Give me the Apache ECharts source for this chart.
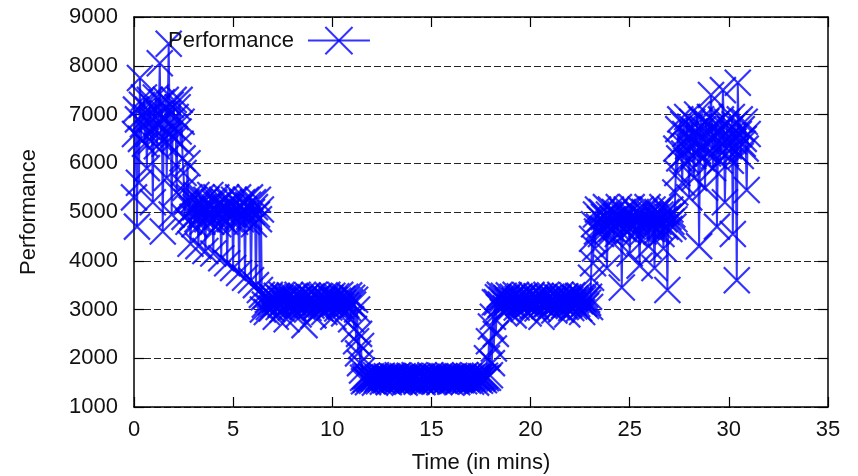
<!DOCTYPE html>
<html><head><meta charset="utf-8">
<script src="https://cdn.jsdelivr.net/npm/echarts@6/dist/echarts.min.js"></script>
<style>html,body{margin:0;padding:0;background:#fff}#c{width:858px;height:476px}</style>
</head><body><div id="c"></div>
<script>
const xTicks = [0, 5, 10, 15, 20, 25, 30, 35];
const yTicks = [1000, 2000, 3000, 4000, 5000, 6000, 7000, 8000, 9000];
const seriesName = 'Performance';
const xTitle = 'Time (in mins)';
const yTitle = 'Performance';

// [time in mins, performance], phase by phase
const phaseA = [[0.00,5300],[0.05,6600],[0.10,7100],[0.15,4700],[0.20,6900],[0.25,5600],[0.30,7750],[0.35,6500],[0.40,7200],[0.45,6800],
[0.50,7350],[0.55,6400],[0.60,6950],[0.65,5900],[0.70,7100],[0.75,6600],[0.80,7300],[0.85,6450],[0.90,6900],[0.95,5200],
[1.00,7150],[1.05,6700],[1.10,7350],[1.15,6350],[1.20,6800],[1.25,7000],[1.30,8050],[1.35,6550],[1.40,7250],[1.45,4600],
[1.50,6900],[1.55,6400],[1.60,7300],[1.65,5700],[1.70,7050],[1.75,8450],[1.80,6600],[1.85,7200],[1.90,4950],[1.95,6750],
[2.00,7300],[2.05,6500],[2.10,6950],[2.15,5400],[2.20,7150],[2.25,6650],[2.30,7300],[2.35,6400],[2.40,6850],[2.45,6100]];
const phaseB = [[2.50,5800],[2.55,4900],[2.60,5500],[2.65,5200],[2.70,6000],[2.75,4800],[2.80,5300],[2.85,4350],[2.90,5050],[2.95,4900],
[3.00,5250],[3.05,4750],[3.10,5100],[3.15,5350],[3.20,4850],[3.25,4300],[3.30,5200],[3.35,4950],[3.40,5300],[3.45,4800],
[3.50,5100],[3.55,5000],[3.60,4200],[3.65,5250],[3.70,4850],[3.75,5150],[3.80,4950],[3.85,5350],[3.90,4800],[3.95,5050],
[4.00,4150],[4.05,5200],[4.10,4900],[4.15,5300],[4.20,5000],[4.25,4750],[4.30,5150],[4.35,4950],[4.40,4050],[4.45,5250],
[4.50,4850],[4.55,5100],[4.60,4800],[4.65,5300],[4.70,3950],[4.75,5000],[4.80,5200],[4.85,4850],[4.90,5100],[4.95,4950],
[5.00,3850],[5.05,5250],[5.10,4800],[5.15,5050],[5.20,4900],[5.25,5300],[5.30,3750],[5.35,5100],[5.40,4850],[5.45,5200],
[5.50,4950],[5.55,5050],[5.60,3650],[5.65,5250],[5.70,4800],[5.75,5150],[5.80,4900],[5.85,5300],[5.90,3600],[5.95,5000],
[6.00,5200],[6.05,4750],[6.10,5100],[6.15,3500],[6.20,4950],[6.25,5250],[6.30,4850],[6.35,3400],[6.40,5050],[6.45,3300]];
const phaseC = [[6.50,3000],[6.55,3250],[6.60,3100],[6.65,3280],[6.70,2950],[6.75,3200],[6.80,3050],[6.85,3300],[6.90,3150],[6.95,3020],
[7.00,3250],[7.05,3100],[7.10,3200],[7.15,2850],[7.20,3280],[7.25,3150],[7.30,3050],[7.35,3230],[7.40,3100],[7.45,3300],
[7.50,3000],[7.55,3180],[7.60,3250],[7.65,3080],[7.70,2800],[7.75,3220],[7.80,3120],[7.85,3290],[7.90,3040],[7.95,3200],
[8.00,3150],[8.05,3260],[8.10,3010],[8.15,3180],[8.20,3100],[8.25,3300],[8.30,2900],[8.35,3220],[8.40,3130],[8.45,3270],
[8.50,3050],[8.55,3190],[8.60,2680],[8.65,3240],[8.70,3110],[8.75,3290],[8.80,3030],[8.85,3170],[8.90,3250],[8.95,3080],
[9.00,3200],[9.05,2880],[9.10,3300],[9.15,3140],[9.20,3060],[9.25,3230],[9.30,3100],[9.35,3280],[9.40,3020],[9.45,3190],
[9.50,3120],[9.55,3260],[9.60,2950],[9.65,3210],[9.70,3090],[9.75,3300],[9.80,3160],[9.85,3040],[9.90,3240],[9.95,3110],
[10.00,3280],[10.05,2850],[10.10,3200],[10.15,3130],[10.20,3270],[10.25,3020],[10.30,3180],[10.35,3100],[10.40,3300],[10.45,3060],
[10.50,3220],[10.55,3140],[10.60,2920],[10.65,3260],[10.70,3090],[10.75,3200],[10.80,3030],[10.85,3290],[10.90,3150],[10.95,2800],
[11.00,3240],[11.05,3100],[11.10,2600],[11.15,3200],[11.20,2350],[11.25,3000],[11.30,2100],[11.35,2500],[11.40,1900],[11.45,2250],
[11.50,1750]];
const phaseD = [[11.55,1600],[11.60,1530],[11.65,1620],[11.70,1560],[11.75,1640],[11.80,1510],[11.85,1590],[11.90,1570],[11.95,1630],[12.00,1540],
[12.05,1610],[12.10,1580],[12.15,1500],[12.20,1650],[12.25,1560],[12.30,1600],[12.35,1530],[12.40,1620],[12.45,1570],[12.50,1640],
[12.55,1520],[12.60,1590],[12.65,1610],[12.70,1550],[12.75,1630],[12.80,1580],[12.85,1510],[12.90,1600],[12.95,1560],[13.00,1640],
[13.05,1540],[13.10,1620],[13.15,1570],[13.20,1600],[13.25,1530],[13.30,1650],[13.35,1580],[13.40,1520],[13.45,1610],[13.50,1560],
[13.55,1630],[13.60,1590],[13.65,1500],[13.70,1620],[13.75,1570],[13.80,1600],[13.85,1540],[13.90,1640],[13.95,1580],[14.00,1530],
[14.05,1610],[14.10,1560],[14.15,1650],[14.20,1590],[14.25,1520],[14.30,1630],[14.35,1570],[14.40,1600],[14.45,1550],[14.50,1620],
[14.55,1510],[14.60,1640],[14.65,1580],[14.70,1560],[14.75,1610],[14.80,1530],[14.85,1600],[14.90,1570],[14.95,1650],[15.00,1540],
[15.05,1620],[15.10,1590],[15.15,1520],[15.20,1630],[15.25,1560],[15.30,1600],[15.35,1580],[15.40,1510],[15.45,1640],[15.50,1550],
[15.55,1610],[15.60,1570],[15.65,1630],[15.70,1530],[15.75,1600],[15.80,1560],[15.85,1650],[15.90,1590],[15.95,1520],[16.00,1620],
[16.05,1580],[16.10,1540],[16.15,1640],[16.20,1570],[16.25,1600],[16.30,1510],[16.35,1630],[16.40,1560],[16.45,1610],[16.50,1550],
[16.55,1590],[16.60,1620],[16.65,1530],[16.70,1650],[16.75,1570],[16.80,1600],[16.85,1540],[16.90,1630],[16.95,1580],[17.00,1520],
[17.05,1610],[17.10,1560],[17.15,1640],[17.20,1590],[17.25,1500],[17.30,1620],[17.35,1570],[17.40,1600],[17.45,1540],[17.50,1630],
[17.55,1580],[17.60,1610],[17.65,1550],[17.70,1640],[17.75,1590],
[17.80,2000],[17.85,1600],[17.90,2350],[17.95,1650],[18.00,2650],[18.05,1900],[18.10,2850],[18.15,2200],[18.20,3150],[18.25,2500]];
const phaseE = [[18.30,3150],[18.35,3250],[18.40,3050],[18.45,3300],[18.50,3100],[18.55,3200],[18.60,2950],[18.65,3280],[18.70,3120],[18.75,3020],
[18.80,3230],[18.85,3170],[18.90,3290],[18.95,3060],[19.00,3200],[19.05,3110],[19.10,3260],[19.15,2880],[19.20,3180],[19.25,3300],
[19.30,3040],[19.35,3220],[19.40,3130],[19.45,3270],[19.50,3080],[19.55,3190],[19.60,3250],[19.65,3010],[19.70,3160],[19.75,3290],
[19.80,3100],[19.85,3210],[19.90,2920],[19.95,3240],[20.00,3140],[20.05,3300],[20.10,3060],[20.15,3180],[20.20,3230],[20.25,3090],
[20.30,3270],[20.35,3020],[20.40,3200],[20.45,3150],[20.50,3280],[20.55,2850],[20.60,3120],[20.65,3250],[20.70,3070],[20.75,3190],
[20.80,3300],[20.85,3110],[20.90,3230],[20.95,3040],[21.00,3170],[21.05,3260],[21.10,3090],[21.15,3210],[21.20,2980],[21.25,3280],
[21.30,3130],[21.35,3050],[21.40,3240],[21.45,3180],[21.50,3300],[21.55,3000],[21.60,3160],[21.65,3220],[21.70,3080],[21.75,3270],
[21.80,3140],[21.85,2900],[21.90,3250],[21.95,3100],[22.00,3200],[22.05,3030],[22.10,3290],[22.15,3150],[22.20,3060],[22.25,3230],
[22.30,3190],[22.35,3110],[22.40,3280],[22.45,3020],[22.50,3170],[22.55,3250],[22.60,2950],[22.65,3210],[22.70,3120],[22.75,3300],
[22.80,3070],[22.85,3200],[22.90,3140],[22.95,3260],[23.00,3050]];
const phaseF = [[23.05,3650],[23.10,4450],[23.15,3950],[23.20,4750],[23.25,4250],[23.30,4950],[23.35,4600],[23.40,5050],[23.45,4700],[23.50,4850],
[23.55,4550],[23.60,5000],[23.65,4650],[23.70,4900],[23.75,4750],[23.80,5100],[23.85,3850],[23.90,4600],[23.95,4950],[24.00,4800],
[24.05,5050],[24.10,4650],[24.15,4850],[24.20,4350],[24.25,5000],[24.30,4700],[24.35,4900],[24.40,4550],[24.45,5100],[24.50,4750],
[24.55,4850],[24.60,3450],[24.65,5000],[24.70,4650],[24.75,4900],[24.80,4800],[24.85,5050],[24.90,4600],[24.95,4950],[25.00,4150],
[25.05,4750],[25.10,5100],[25.15,4700],[25.20,4850],[25.25,4550],[25.30,5000],[25.35,4800],[25.40,4950],[25.45,4650],[25.50,3900],
[25.55,5050],[25.60,4750],[25.65,4900],[25.70,4600],[25.75,5000],[25.80,4850],[25.85,4700],[25.90,5100],[25.95,4300],[26.00,4800],
[26.05,4950],[26.10,4650],[26.15,5050],[26.20,4750],[26.25,3850],[26.30,4900],[26.35,4600],[26.40,5000],[26.45,4800],[26.50,4700],
[26.55,4950],[26.60,4550],[26.65,5100],[26.70,4250],[26.75,4850],[26.80,4700],[26.85,5000],[26.90,3400],[26.95,4900],[27.00,4650],
[27.05,5050],[27.10,4800],[27.15,4950],[27.20,4700],[27.25,4850]];
const phaseG = [[27.30,5400],[27.35,6300],[27.40,5800],[27.45,6700],[27.50,6100],[27.55,6900],[27.60,6400],[27.65,5600],[27.70,6800],[27.75,6200],
[27.80,6600],[27.85,6050],[27.90,6950],[27.95,6350],[28.00,5300],[28.05,6750],[28.10,6500],[28.15,6850],[28.20,6150],[28.25,5700],
[28.30,6650],[28.35,6400],[28.40,7000],[28.45,6250],[28.50,4300],[28.55,6550],[28.60,6900],[28.65,6100],[28.70,6700],[28.75,6300],
[28.80,5500],[28.85,6850],[28.90,6450],[28.95,6200],[29.00,6600],[29.05,6950],[29.10,7400],[29.15,6750],[29.20,5900],[29.25,6150],
[29.30,6550],[29.35,6800],[29.40,4700],[29.45,6300],[29.50,6650],[29.55,6050],[29.60,6900],[29.65,6400],[29.70,7500],[29.75,6750],
[29.80,5200],[29.85,6200],[29.90,6850],[29.95,6500],[30.00,6350],[30.05,6700],[30.10,6050],[30.15,6950],[30.20,4550],[30.25,6450],
[30.30,6800],[30.35,6250],[30.40,3600],[30.45,7650],[30.50,6600],[30.55,6900],[30.60,6150],[30.65,6700],[30.70,6400],[30.75,6500],
[30.80,6850],[30.85,6300],[30.90,5450],[30.95,6600]];

const perfData = [].concat(phaseA, phaseB, phaseC, phaseD, phaseE, phaseF, phaseG);

const FONT = 'Liberation Sans, Arial, Helvetica, sans-serif';
const BLUE = 'rgba(0,0,255,0.8)';
const CROSS = 'path://M0,0L20,20M20,0L0,20';
const chart = echarts.init(document.getElementById('c'), null, {renderer: 'canvas'});

const baseX = {
  type: 'value', min: xTicks[0], max: xTicks[xTicks.length - 1], interval: xTicks[1] - xTicks[0],
  axisLine: {show: true, onZero: false, lineStyle: {color: '#000', width: 1.5}},
  axisTick: {show: true, inside: true, length: 10, lineStyle: {color: '#000', width: 1.2}},
  splitLine: {show: false}
};
const baseY = {
  type: 'value', min: yTicks[0], max: yTicks[yTicks.length - 1], interval: yTicks[1] - yTicks[0],
  axisLine: {show: true, onZero: false, lineStyle: {color: '#000', width: 1.5}},
  axisTick: {show: true, inside: true, length: 10, lineStyle: {color: '#000', width: 1.2}}
};

chart.setOption({
  animation: false,
  backgroundColor: '#fff',
  grid: {left: 134, right: 30, top: 17, bottom: 69, outerBoundsMode: 'none', containLabel: false},
  legend: {
    data: [seriesName], left: 163, top: 21, align: 'right',
    itemWidth: 62, itemHeight: 34,
    textStyle: {fontFamily: FONT, fontSize: 22, color: '#111', padding: [0, 9, 0, 0]}
  },
  xAxis: [
    Object.assign({}, baseX, {
      position: 'bottom', name: xTitle, nameLocation: 'middle', nameGap: 45,
      nameTextStyle: {fontFamily: FONT, fontSize: 22, color: '#111'},
      axisLabel: {fontFamily: FONT, fontSize: 22, color: '#111', margin: 12}
    }),
    Object.assign({}, baseX, {position: 'top', axisLabel: {show: false}})
  ],
  yAxis: [
    Object.assign({}, baseY, {
      position: 'left', name: yTitle, nameLocation: 'middle', nameGap: 94,
      nameTextStyle: {fontFamily: FONT, fontSize: 22, color: '#111'},
      axisLabel: {fontFamily: FONT, fontSize: 22, color: '#111', margin: 16, formatter: v => String(v)},
      splitLine: {show: true, lineStyle: {color: '#222', width: 1, type: [7, 3]}}
    }),
    Object.assign({}, baseY, {position: 'right', axisLabel: {show: false}, splitLine: {show: false}})
  ],
  series: [{
    name: seriesName, type: 'line', data: perfData,
    symbol: CROSS, symbolSize: 26, showSymbol: false, clip: false,
    lineStyle: {color: BLUE, width: 2},
    itemStyle: {color: BLUE, borderColor: BLUE, borderWidth: 2.2},
    emphasis: {disabled: true}, z: 2
  }, {
    name: seriesName, type: 'scatter', data: perfData,
    symbol: CROSS, symbolSize: 26, clip: false, large: false,
    itemStyle: {color: BLUE, borderColor: BLUE, borderWidth: 2.2, opacity: 1},
    emphasis: {disabled: true}, z: 3
  }]
});
</script></body></html>
